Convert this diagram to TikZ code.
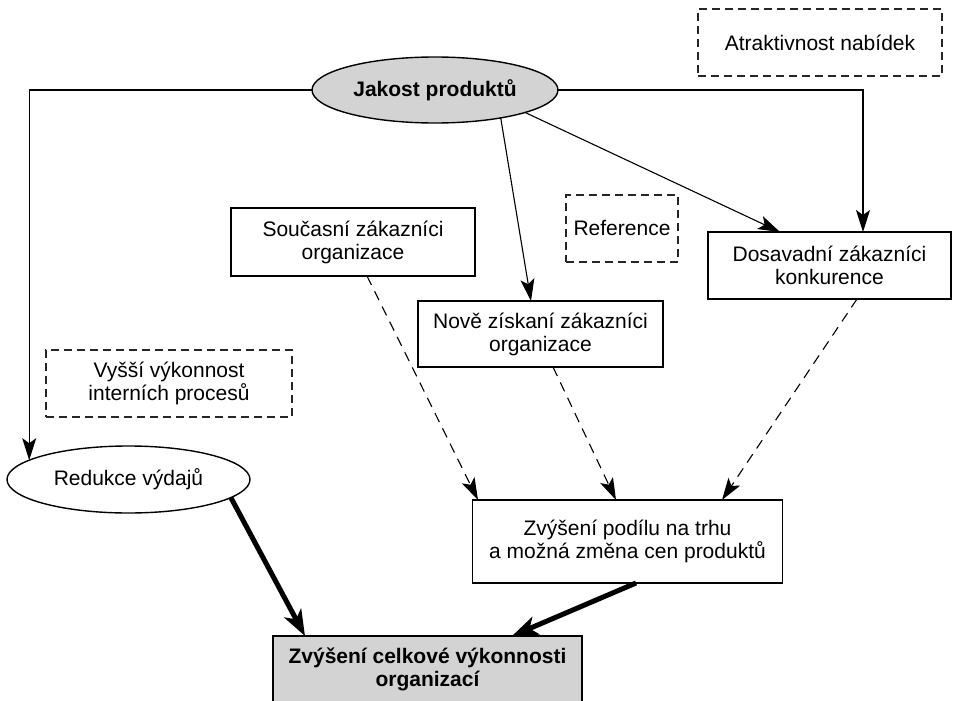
\documentclass[tikz,border=0pt]{standalone}
\usepackage{fontspec}
\setmainfont{Liberation Sans}
\usetikzlibrary{shapes.geometric,arrows.meta}
\definecolor{fillgray}{RGB}{211,211,211}
\tikzset{
  every node/.style={font=\fontsize{21}{23}\selectfont, align=center, inner sep=0pt, outer sep=0pt},
  box/.style={draw, rectangle, line width=1.4pt},
  dbox/.style={draw, rectangle, line width=1.2pt, dash pattern=on 8pt off 5pt, draw=black!85},
  oval/.style={draw, ellipse, line width=1.4pt},
  link/.style={line width=1.1pt, -{Stealth[length=22pt,width=14pt,inset=5pt]}},
  dlink/.style={line width=1.1pt, dash pattern=on 10pt off 7pt, -{Stealth[length=22pt,width=14pt,inset=5pt]}},
  heavy/.style={line width=5pt, -{Stealth[length=26pt,width=19pt,inset=7pt]}},
}
\begin{document}
\begin{tikzpicture}[x=1pt,y=-1pt]
\useasboundingbox (0,0) rectangle (958,701);
\clip (0,0) rectangle (958,701);

% quality and the outer boxes
\node[oval, fill=fillgray, minimum width=246pt, minimum height=66pt] (jakost) at (435,90) {\bfseries Jakost produktů};
\node[dbox, minimum width=244pt, minimum height=67pt] (atrakt) at (820,42.5) {Atraktivnost nabídek};

% customer groups
\node[box, minimum width=244pt, minimum height=68pt] (soucasni) at (353,242) {Současní zákazníci\\organizace};
\node[dbox, minimum width=112pt, minimum height=67pt] (refer) at (622,228.5) {Reference};
\node[box, minimum width=243pt, minimum height=67pt] (dosav) at (829.5,265.5) {Dosavadní zákazníci\\konkurence};
\node[box, minimum width=245pt, minimum height=66pt] (nove) at (540.5,334) {Nově získaní zákazníci\\organizace};

% left branch
\node[dbox, minimum width=246pt, minimum height=67pt] (vyssi) at (169,383.5) {Vyšší výkonnost\\interních procesů};
\node[oval, minimum width=243pt, minimum height=67pt] (redukce) at (128.5,479.5) {Redukce výdajů};

% results
\node[box, minimum width=310pt, minimum height=83pt] (podil) at (627.5,541.5) {Zvýšení podílu na trhu\\a možná změna cen produktů};
\node[box, fill=fillgray, minimum width=309pt, minimum height=66pt] (celk) at (427.5,669) {\bfseries Zvýšení celkové výkonnosti\\\bfseries organizací};

% connectors from product quality
\draw[link] (jakost.west) -| (redukce.169);
\draw[link] (jakost.east) -| ([xshift=33.5pt]dosav.north);
\draw[link] (jakost.-14) -- ([xshift=-49.5pt]dosav.north);
\draw[link] (jakost.-23) -- ([xshift=-9.5pt]nove.north);

% customer groups feed market share
\draw[dlink] ([xshift=14pt]soucasni.south) -- ([xshift=-149.5pt]podil.north);
\draw[dlink] ([xshift=12.5pt]nove.south) -- ([xshift=-11.5pt]podil.north);
\draw[dlink] ([xshift=27.5pt]dosav.south) -- ([xshift=94.5pt]podil.north);

% overall performance
\draw[heavy] (redukce.-10) -- ([xshift=-122.5pt]celk.north);
\draw[heavy] ([xshift=8.5pt]podil.south) -- ([xshift=84.5pt]celk.north);
\end{tikzpicture}
\end{document}
